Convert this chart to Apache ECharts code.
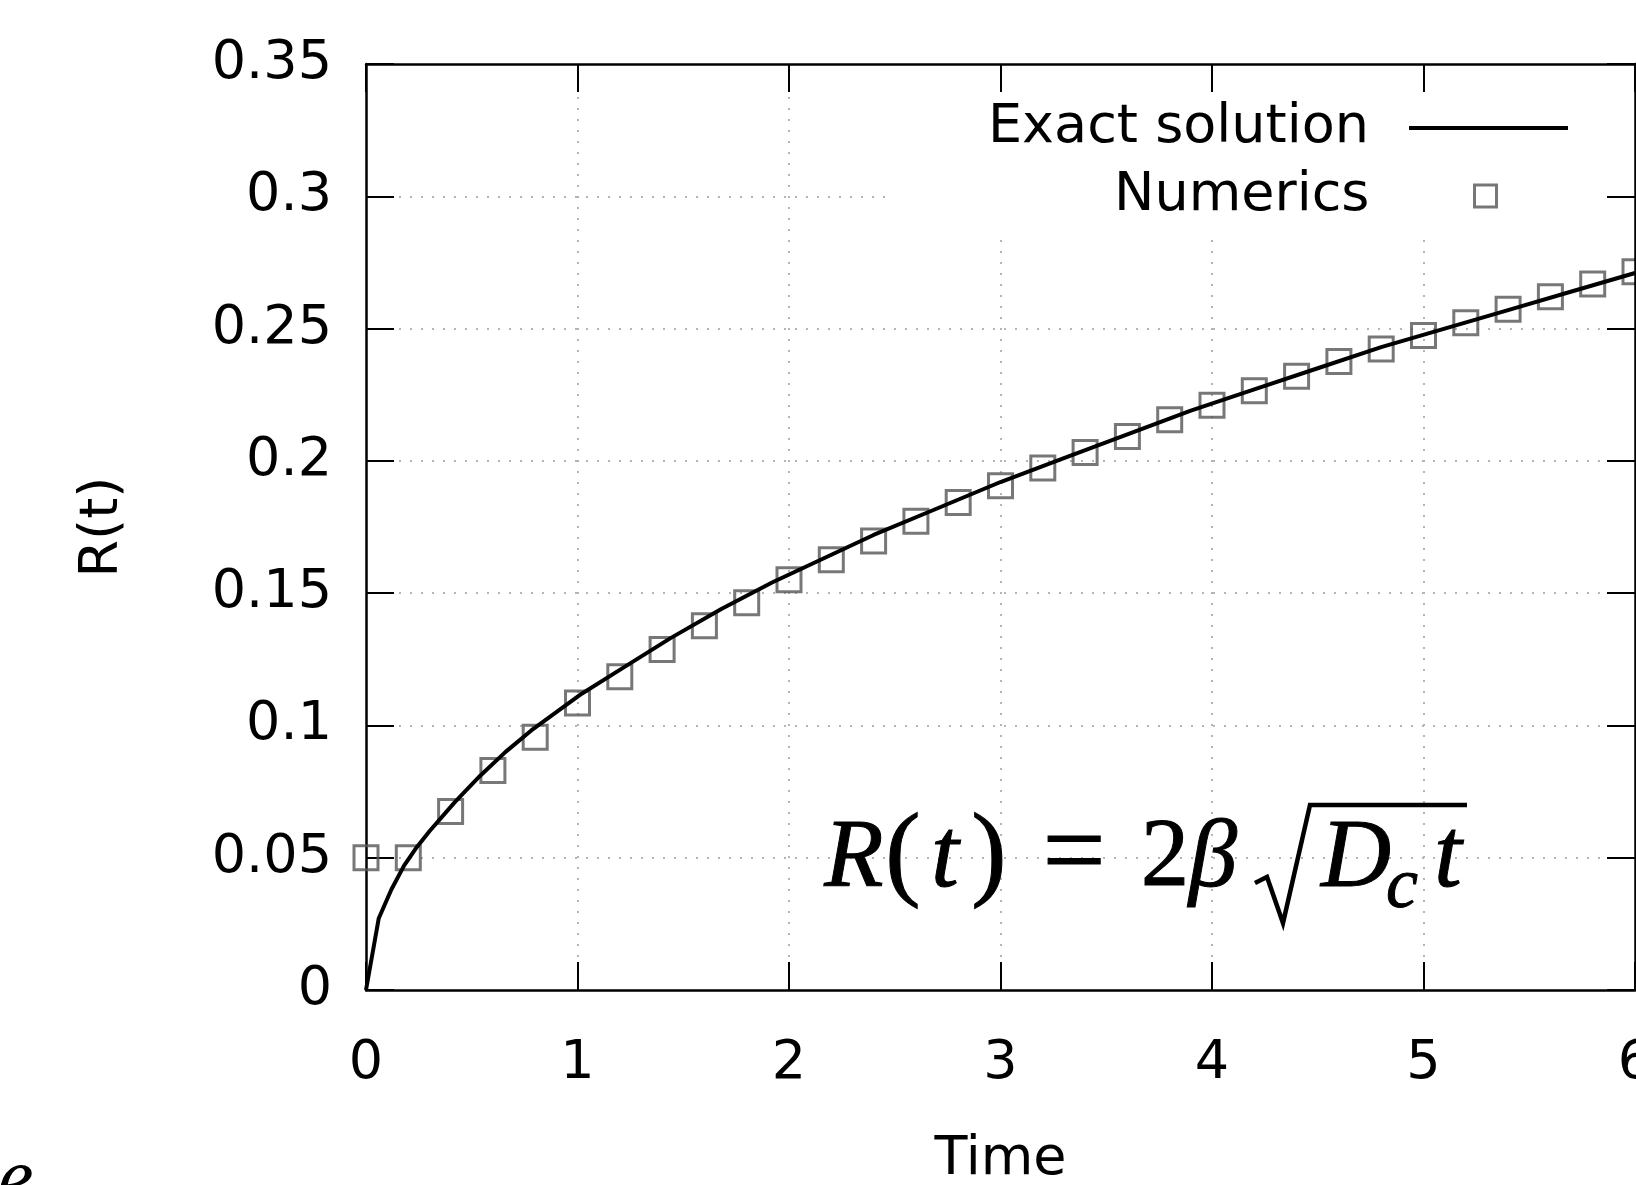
<!DOCTYPE html>
<html>
<head>
<meta charset="utf-8">
<title>R(t)</title>
<script src="https://cdn.jsdelivr.net/npm/echarts@6/dist/echarts.min.js"></script>
<style>
  html, body { margin: 0; padding: 0; background: #fff; }
  #main { width: 1636px; height: 1185px; }
</style>
</head>
<body>
<div id="main"></div>
<script>
// numerical solution (squares)
var timeNum = [0, 0.2, 0.4, 0.6, 0.8, 1.0, 1.2, 1.4, 1.6, 1.8, 2.0, 2.2, 2.4, 2.6, 2.8, 3.0,
    3.2, 3.4, 3.6, 3.8, 4.0, 4.2, 4.4, 4.6, 4.8, 5.0, 5.2, 5.4, 5.6, 5.8, 6.0];
var rNum = [0.05, 0.05, 0.0675, 0.083, 0.0955, 0.1085, 0.1184, 0.1287, 0.1377, 0.1464, 0.1551,
    0.1626, 0.1697, 0.1772, 0.1843, 0.1906, 0.1973, 0.2032, 0.2092, 0.2155, 0.221, 0.2265,
    0.232, 0.2376, 0.2423, 0.2474, 0.2522, 0.2573, 0.262, 0.2668, 0.2715];

// exact solution (line)
var timeExact = [0, 0.06, 0.12, 0.18, 0.24, 0.3, 0.42, 0.54, 0.66, 0.78, 0.9, 1.02, 1.2, 1.44,
    1.68, 1.92, 2.16, 2.4, 2.7, 3.0, 3.3, 3.6, 3.9, 4.2, 4.5, 4.8, 5.1, 5.4, 5.7, 6.0];
var rExact = [0, 0.027, 0.038, 0.047, 0.054, 0.060, 0.071, 0.081, 0.090, 0.098, 0.105, 0.112,
    0.121, 0.133, 0.144, 0.154, 0.163, 0.172, 0.182, 0.192, 0.201, 0.210, 0.219, 0.227, 0.235,
    0.243, 0.250, 0.257, 0.264, 0.271];

var seriesNames = ['Exact solution', 'Numerics'];
var xName = 'Time';
var yName = 'R(t)';

var font = 'DejaVu Sans';
var fs = 54;

function pairs(xs, ys) {
    var out = [];
    for (var i = 0; i < xs.length; i++) out.push([xs[i], ys[i]]);
    return out;
}

// one glyph of the formula, centred on cx
function glyph(ch, cx, cy, size, italic) {
    return {
        type: 'text', z: 5,
        style: {
            x: cx, y: cy, text: ch, align: 'center', verticalAlign: 'middle',
            font: (italic ? 'italic ' : '') + size + 'px "Liberation Serif"', fill: '#000',
            stroke: '#000', lineWidth: 1
        }
    };
}

var myChart = echarts.init(document.getElementById('main'));

var tickStyle = {color: '#000', width: 2};
var lineAxis = {color: '#000', width: 2.5};
var gridDots = {type: [2, 9], color: '#b4b4b4', width: 2};
var labelText = {fontSize: fs, fontFamily: font, color: '#000'};

var option = {
    backgroundColor: '#fff',
    animation: false,
    grid: {left: 366, top: 64, right: 1, bottom: 195, outerBoundsMode: 'none', containLabel: false},
    xAxis: [{
        type: 'value', min: 0, max: 6, interval: 1, position: 'bottom',
        axisLine: {show: true, onZero: false, lineStyle: lineAxis},
        axisTick: {show: true, inside: true, length: 28, lineStyle: tickStyle},
        axisLabel: {fontSize: fs, fontFamily: font, color: '#000', margin: 47},
        splitLine: {show: true, showMinLine: false, showMaxLine: false, lineStyle: gridDots},
        name: xName, nameLocation: 'middle', nameGap: 143, nameTextStyle: labelText
    }, {
        type: 'value', min: 0, max: 6, interval: 1, position: 'top', z: 3,
        axisLine: {show: true, onZero: false, lineStyle: lineAxis},
        axisTick: {show: true, inside: true, length: 28, lineStyle: tickStyle},
        axisLabel: {show: false},
        splitLine: {show: false}
    }],
    yAxis: [{
        type: 'value', min: 0, max: 0.35, interval: 0.05, position: 'left',
        axisLine: {show: true, onZero: false, lineStyle: lineAxis},
        axisTick: {show: true, inside: true, length: 28, lineStyle: tickStyle},
        axisLabel: {fontSize: fs, fontFamily: font, color: '#000', margin: 34},
        splitLine: {show: true, showMinLine: false, showMaxLine: false, lineStyle: gridDots},
        name: yName, nameLocation: 'middle', nameGap: 236, nameRotate: 90, nameTextStyle: labelText
    }, {
        type: 'value', min: 0, max: 0.35, interval: 0.05, position: 'right', z: 3,
        axisLine: {show: true, onZero: false, lineStyle: lineAxis},
        axisTick: {show: true, inside: true, length: 28, lineStyle: tickStyle},
        axisLabel: {show: false},
        splitLine: {show: false}
    }],
    legend: [{
        data: [{name: seriesNames[0], icon: 'rect', itemStyle: {color: '#000', borderWidth: 0}}],
        right: 68, top: 98, padding: 0, align: 'right', orient: 'vertical',
        itemWidth: 159, itemHeight: 4,
        selectedMode: false,
        textStyle: {fontSize: fs, fontFamily: font, color: '#000', lineHeight: 60, padding: [0, 35, 0, 0]}
    }, {
        data: [{name: seriesNames[1], icon: 'rect',
            itemStyle: {color: 'rgba(0,0,0,0)', borderColor: '#555', borderWidth: 3}}],
        right: 138, top: 166, padding: 0, align: 'right', orient: 'vertical',
        itemWidth: 22, itemHeight: 22,
        selectedMode: false,
        textStyle: {fontSize: fs, fontFamily: font, color: '#000', lineHeight: 60, padding: [0, 100, 0, 0]}
    }],
    series: [{
        name: seriesNames[1],
        type: 'scatter',
        symbol: 'rect',
        symbolSize: 24,
        itemStyle: {color: 'rgba(0,0,0,0)', borderColor: '#555', borderWidth: 3},
        data: pairs(timeNum, rNum),
        z: 2
    }, {
        name: seriesNames[0],
        type: 'line',
        symbol: 'none',
        lineStyle: {color: '#000', width: 4},
        data: pairs(timeExact, rExact),
        z: 3
    }],
    graphic: [
        // opaque key box (hides grid behind the legend)
        {type: 'rect', z: 1, shape: {x: 890, y: 66, width: 712, height: 166}, style: {fill: '#fff'}},
        // formula R(t) = 2β√(D_c t)
        glyph('R', 854, 860, 97, true),
        glyph('(', 903, 858, 106, false),
        glyph('t', 945, 860, 100, true),
        glyph(')', 989, 858, 106, false),
        glyph('=', 1074, 858, 112, false),
        glyph('2', 1165, 860, 97, false),
        glyph('β', 1213, 860, 97, true),
        {type: 'polyline', z: 5, shape: {points: [[1255, 883], [1267, 877], [1283, 923], [1310, 805], [1467, 805]]},
            style: {stroke: '#000', lineWidth: 4.5, fill: null, lineJoin: 'miter'}},
        glyph('D', 1356, 860, 97, true),
        glyph('c', 1402, 888, 72, true),
        glyph('t', 1448, 860, 100, true),
        // clipped glyph at the lower left corner
        {type: 'text', z: 5, style: {x: -2, y: 1182, verticalAlign: 'middle', text: 'e',
            font: 'italic 80px "Liberation Serif"', fill: '#000'}}
    ]
};

myChart.setOption(option);
</script>
</body>
</html>
